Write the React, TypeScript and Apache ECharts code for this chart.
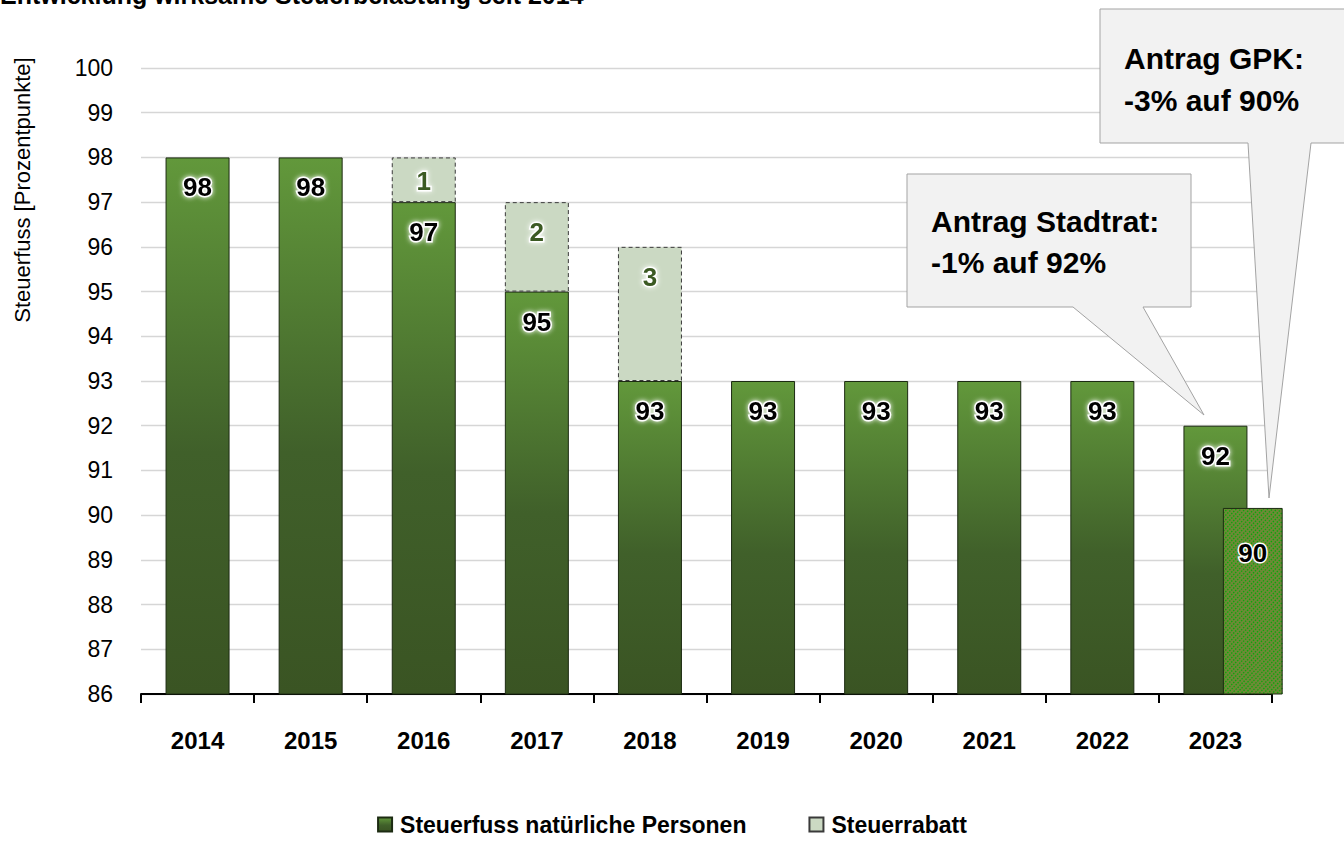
import React, { useEffect, useRef } from "react";
import * as echarts from "echarts";

const categories = ["2014", "2015", "2016", "2017", "2018", "2019", "2020", "2021", "2022", "2023"];
const steuerfuss = [98, 98, 97, 95, 93, 93, 93, 93, 93, 92];
const rabatt = [null, null, 1, 2, 3, null, null, null, null, null];
const gpkIndex = 9;
const gpkValue = 90.15;
const yTicks = { min: 86, max: 100, interval: 1 };

const FONT = "'Liberation Sans Narrow', 'Arial Narrow', 'Liberation Sans', Arial, sans-serif";

export default function App() {
  const ref = useRef<HTMLDivElement>(null);
  useEffect(() => {
    if (!ref.current) return;
    const chart = echarts.init(ref.current, undefined, { renderer: "svg" });
    const greenGrad = new echarts.graphic.LinearGradient(0, 0, 0, 1, [
      { offset: 0, color: "#62983b" },
      { offset: 0.55, color: "#40602a" },
      { offset: 1, color: "#3a5423" },
    ]);
    const labelGlow = {
      textBorderColor: "#ffffff",
      textBorderWidth: 3,
      textShadowColor: "#ffffff",
      textShadowBlur: 5,
    };
    chart.setOption({
      animation: false,
      grid: { left: 141, right: 72, top: 68, bottom: 150 },
      xAxis: {
        type: "category",
        data: categories,
        axisLine: { lineStyle: { color: "#000", width: 2 } },
        axisTick: { show: true, alignWithLabel: false, length: 9, lineStyle: { color: "#000", width: 2 } },
        axisLabel: { color: "#000", fontSize: 24, fontWeight: "bold", fontFamily: FONT, margin: 34 },
      },
      yAxis: {
        type: "value",
        min: yTicks.min,
        max: yTicks.max,
        interval: yTicks.interval,
        axisLine: { show: false },
        axisTick: { show: false },
        splitLine: { lineStyle: { color: "#d6d6d6", width: 1.3 } },
        axisLabel: { color: "#000", fontSize: 23, fontFamily: FONT, margin: 28 },
      },
      legend: {
        bottom: 3,
        left: "center",
        itemWidth: 14,
        itemHeight: 14,
        itemGap: 62,
        icon: "rect",
        data: ["Steuerfuss natürliche Personen", "Steuerrabatt"],
        textStyle: { color: "#000", fontSize: 23, fontWeight: "bold", fontFamily: FONT, padding: [0, 0, 0, 3] },
      },
      graphic: [
        {
          type: "text",
          x: 0,
          y: -5,
          style: {
            text: "Entwicklung wirksame Steuerbelastung seit 2014",
            font: "bold 25px 'Liberation Sans', Arial, sans-serif",
            fill: "#000",
            verticalAlign: "middle",
          },
        },
        {
          type: "text",
          x: 22,
          y: 190,
          rotation: Math.PI / 2,
          style: {
            text: "Steuerfuss [Prozentpunkte]",
            font: `22px ${FONT}`,
            fill: "#000",
            align: "center",
            verticalAlign: "middle",
          },
        },
        {
          type: "polygon",
          z: 50,
          shape: {
            points: [
              [907, 174], [1191, 174], [1191, 307], [1143, 307], [1204, 415], [1073, 307], [907, 307],
            ],
          },
          style: { fill: "#f2f2f2", stroke: "#a3a3a3", lineWidth: 1 },
        },
        {
          type: "text",
          z: 51,
          x: 931,
          y: 242,
          style: {
            text: "Antrag Stadtrat:\n-1% auf 92%",
            font: `bold 30px ${FONT}`,
            lineHeight: 41,
            fill: "#000",
            verticalAlign: "middle",
          },
        },
        {
          type: "polygon",
          z: 50,
          shape: {
            points: [
              [1100, 9], [1352, 9], [1352, 143], [1311, 143], [1269, 498], [1248, 143], [1100, 143],
            ],
          },
          style: { fill: "#f2f2f2", stroke: "#a3a3a3", lineWidth: 1 },
        },
        {
          type: "text",
          z: 51,
          x: 1124,
          y: 79,
          style: {
            text: "Antrag GPK:\n-3% auf 90%",
            font: `bold 30px ${FONT}`,
            lineHeight: 42,
            fill: "#000",
            verticalAlign: "middle",
          },
        },
      ],
      series: [
        {
          name: "Steuerfuss natürliche Personen",
          type: "bar",
          stack: "total",
          barWidth: 64,
          data: steuerfuss,
          itemStyle: { color: greenGrad, borderColor: "#1c2b12", borderWidth: 1 },
          label: {
            show: true,
            position: "insideTop",
            distance: 17,
            color: "#000",
            fontSize: 26,
            fontWeight: "bold",
            fontFamily: FONT,
            ...labelGlow,
          },
        },
        {
          name: "Steuerrabatt",
          type: "bar",
          stack: "total",
          barWidth: 64,
          data: rabatt.map((v) => (v === 1 ? { value: v, label: { distance: 11 } } : v)),
          itemStyle: {
            color: "#cbd9c3",
            borderColor: "#3a3a3a",
            borderWidth: 1,
            borderType: [4, 3],
          },
          label: {
            show: true,
            position: "insideTop",
            distance: 17,
            color: "#3b5a24",
            fontSize: 26,
            fontWeight: "bold",
            fontFamily: FONT,
            ...labelGlow,
          },
        },
        {
          name: "Antrag GPK",
          type: "custom",
          data: [[gpkIndex, gpkValue]],
          z: 3,
          renderItem: (params: any, api: any) => {
            const idx = api.value(0);
            const val = api.value(1);
            const top = api.coord([idx, val]);
            const base = api.coord([idx, yTicks.min]);
            const bw = api.size([1, 0])[0];
            const x0 = top[0] + 0.07 * bw;
            const w = 0.52 * bw;
            const y0 = top[1];
            const h = base[1] - top[1];
            const x1 = x0 + w;
            const y1 = y0 + h;
            const hatch: any[] = [];
            const step = 4.5;
            for (let c = x0 + y0 + step; c < x1 + y1; c += step) {
              const pts: number[][] = [];
              let yy = c - x0;
              if (yy >= y0 && yy <= y1) pts.push([x0, yy]);
              yy = c - x1;
              if (yy >= y0 && yy <= y1) pts.push([x1, yy]);
              let xx = c - y0;
              if (xx > x0 && xx < x1) pts.push([xx, y0]);
              xx = c - y1;
              if (xx > x0 && xx < x1) pts.push([xx, y1]);
              if (pts.length >= 2) {
                hatch.push({
                  type: "line",
                  shape: { x1: pts[0][0], y1: pts[0][1], x2: pts[1][0], y2: pts[1][1] },
                  style: { stroke: "#0aa70a", lineWidth: 1.3, lineDash: [1.4, 1.4] },
                  silent: true,
                });
              }
            }
            return {
              type: "group",
              children: [
                {
                  type: "rect",
                  shape: { x: x0, y: y0, width: w, height: h },
                  style: { fill: "#6d8a37" },
                },
                ...hatch,
                {
                  type: "rect",
                  shape: { x: x0, y: y0, width: w, height: h },
                  style: { fill: "none", stroke: "#1c2b12", lineWidth: 1 },
                },
                {
                  type: "text",
                  style: {
                    text: String(Math.round(val)),
                    x: x0 + w / 2,
                    y: y0 + 45,
                    align: "center",
                    verticalAlign: "middle",
                    font: `bold 26px ${FONT}`,
                    fill: "#000",
                    stroke: "#fff",
                    lineWidth: 3,
                    shadowColor: "#fff",
                    shadowBlur: 5,
                  },
                },
              ],
            };
          },
        },
      ],
    });
    return () => chart.dispose();
  }, []);
  return (
    <div
      ref={ref}
      style={{ position: "fixed", left: 0, top: 0, width: 1344, height: 844, background: "#fff" }}
    />
  );
}
